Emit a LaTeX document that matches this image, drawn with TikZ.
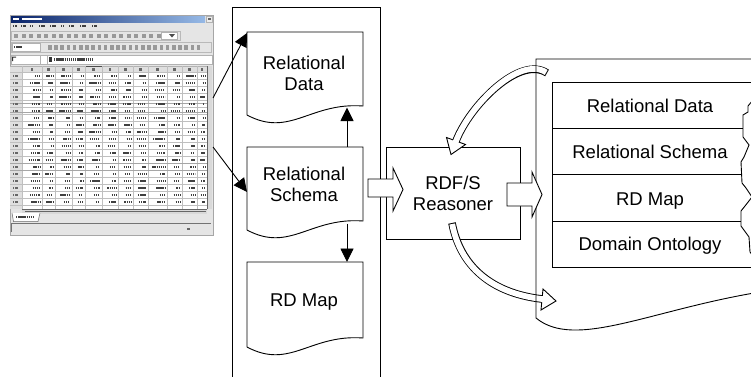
\documentclass[tikz,border=0pt]{standalone}
\usepackage{fontspec}
\setmainfont{Liberation Sans}
\usetikzlibrary{arrows.meta}
\begin{document}
\begin{tikzpicture}[x=1pt,y=-1pt,
  lbl/.style={font=\fontsize{18.5}{21}\selectfont, align=center, inner sep=0pt},
  outline/.style={draw=black, line width=0.9pt},
  arr/.style={draw=black, line width=0.9pt, -{Triangle[length=13.5pt,width=13pt]}},
  blockarrow/.style={draw=black, fill=white, line width=0.9pt, line join=miter},
  bendouter/.style={draw=black, line width=7.6pt, line cap=butt},
  bendinner/.style={draw=white, line width=5.8pt, line cap=butt},
  celltext/.style={draw=black!75, line width=2.3pt, dash pattern=on 1.4pt off 0.7pt},
  faint/.style={draw=gray!50, line width=0.4pt}]
\useasboundingbox (0,0) rectangle (751,376);
\clip (0,0) rectangle (751,376);

% ---------------- spreadsheet window ----------------
\node[minimum width=203pt, minimum height=220pt, inner sep=0pt,
      fill=gray!20, draw=gray!70, line width=0.6pt] (sheet) at (111.5,125) {};
% title bar
\shade[left color={rgb,255:red,10;green,36;blue,106},
       right color={rgb,255:red,150;green,185;blue,230}] (11,16) rectangle (205,22);
\fill[white] (13,17.6) rectangle (19,20.4);
\fill[white] (22,17.6) rectangle (42,20.4);
\draw[gray!60, fill=gray!15] (206,16) rectangle (212,22);
\fill[black!60] (207.5,18) rectangle (210.5,20);
% menu bar
\foreach \a/\b in {13/17,21/26,30/33,39/45,50/56,61/64,69/74,80/86,92/97}
  \draw[celltext] (\a,26.3) -- (\b,26.3);
% first toolbar
\draw[gray!55, line width=0.5pt] (11,31) rectangle (180,40.5);
\foreach \i in {0,...,19}
  \fill[black!40] ({14+7.5*\i},33.5) rectangle ({18+7.5*\i},38);
\draw[fill=white, draw=gray!60] (161,32.5) rectangle (177,39);
\fill[black!70] (169,34) -- (175,34) -- (172,37.5) -- cycle;
% second toolbar
\draw[gray!55, line width=0.5pt] (11,42) rectangle (211,52.5);
\draw[fill=white, draw=gray!60] (12,43.5) rectangle (40,51);
\draw[celltext] (14,47.2) -- (22,47.2);
\foreach \i in {0,...,24}
  \fill[black!40] ({48+6.2*\i},44.5) rectangle ({51.5+6.2*\i},49.5);
% formula bar
\fill[white] (11,55) rectangle (212,64);
\draw[gray!60, line width=0.5pt] (11,55) rectangle (212,64);
\draw[gray!60, line width=0.5pt] (40,55) -- (40,64) (47,55) -- (47,64);
\fill[black!80] (12,56.5) rectangle (16,57.5) (12,56.5) rectangle (13,61);
\fill[black!80] (49,57) rectangle (52,62);
\draw[celltext] (54,59.5) -- (92,59.5);
% column headers
\fill[gray!25] (10,66) rectangle (207,72);
\draw[gray!60, line width=0.5pt] (10,66) -- (207,66);
\foreach \c in {32,48.5,63.5,78.5,93.5,110,125.5,140.5,157.5,174.5,189.5,202}
  \fill[black!60] ({\c-1.2},67.8) rectangle ({\c+1.2},70.6);
\draw[black!70, line width=0.8pt] (85,66.5) -- (102,66.5);
% cell grid
\fill[white] (22,72) rectangle (207,209);
\fill[gray!25] (10,72) rectangle (22,209);
\foreach \r in {0,...,19}
  \draw[faint] (10,{72+7*\r}) -- (207,{72+7*\r});
\foreach \x in {22,42,55,72,85,102,118,133,148,167,182,197}
  \draw[faint] (\x,66) -- (\x,209);
\draw[gray!70, line width=0.5pt] (10,103) -- (207,103) (10,112) -- (207,112)
  (10,163) -- (207,163) (10,170) -- (207,170);
% cell contents
\pgfmathsetseed{2024}
\foreach \r in {0,...,18}{
  \foreach \xa/\xb in {22/42,42/55,55/72,72/85,85/102,102/118,118/133,133/148,148/167,167/182,182/197,197/207}{
    \pgfmathsetmacro\w{(\xb-\xa-4)*(0.25+0.6*rnd)}
    \draw[celltext] ({\xb-2-\w},{76+7*\r}) -- ({\xb-2},{76+7*\r});
  }
  \draw[celltext, draw=black!60] (13,{76+7*\r}) -- (18,{76+7*\r});
}
% scroll bars, sheet tab and status bar
\fill[gray!30] (207,66) rectangle (212,209);
\draw[black!60, line width=0.5pt] (207,66) -- (207,209);
\fill[gray!30] (22,209) rectangle (207,213.5);
\draw[black!60, line width=0.5pt] (22,209) -- (207,209) (25,211.5) -- (206,211.5);
\draw[black!60, fill=white, line width=0.5pt] (12,213) -- (13.5,221.5) -- (38,221.5) -- (40,213);
\draw[celltext] (16,217) -- (34,217);
\draw[black!55, line width=0.6pt] (11,232) -- (11,223) -- (211,223);
\fill[black!60] (187,228) rectangle (190,230);

% ---------------- relational part ----------------
\draw[outline] (232,7) -- (232,390) (232,7) -- (380,7) -- (380,390);
% three document shapes
\draw[outline] (247,115) -- (247,32) -- (363,32) -- (363,106)
  .. controls (310,102) and (290,138) .. (247,115);
\draw[outline] (247,230) -- (247,147) -- (363,147) -- (363,221)
  .. controls (310,217) and (290,253) .. (247,230);
\draw[outline] (247,347) -- (247,262) -- (363,262) -- (363,338)
  .. controls (310,334) and (290,370) .. (247,347);
\node[lbl] (reldata) at (304,73) {Relational\\Data};
\node[lbl] (relschema) at (304,184) {Relational\\Schema};
\node[lbl, anchor=base] (rdmap) at (304,306.6) {RD Map};

% anchor points of the connectors
\coordinate (sheetA) at (213,98);
\coordinate (sheetB) at (213,147);
\coordinate (dataIn) at (247,33);
\coordinate (schemaIn) at (247,192);
\coordinate (schemaTop) at (347,147);
\coordinate (dataBottom) at (347,107.5);
\coordinate (schemaBottom) at (347,223.5);
\coordinate (mapTop) at (347,262);
\draw[arr] (sheetA) -- (dataIn);
\draw[arr] (sheetB) -- (schemaIn);
\draw[arr] (schemaTop) -- (dataBottom);
\draw[arr] (schemaBottom) -- (mapTop);

% ---------------- reasoner ----------------
\node[lbl, draw=black, line width=0.9pt, fill=white,
      minimum width=134pt, minimum height=92pt] (reasoner) at (453,193) {};
\node[lbl] (reasonerText) at (453,193.5) {RDF/S\\Reasoner};

% curved hollow arrows
\draw[bendouter] (547,73) .. controls (520,55) and (470,105) .. (456,141);
\draw[blockarrow] (446.5,137.5) -- (451,154.5) -- (465.5,144.5) -- cycle;
\draw[bendinner, shorten <=1pt] (547,73) .. controls (520,55) and (470,105) .. (456,141) -- (455.3,143);

\draw[bendouter] (452,223) .. controls (460,265) and (490,293) .. (542,299);
\draw[blockarrow] (543,289) -- (556,301) -- (541,310) -- cycle;
\draw[bendinner, shorten <=1pt] (452,223) .. controls (460,265) and (490,293) .. (542,299) -- (544.5,299.3);

% ---------------- knowledge base ----------------
\draw[outline] (760,59) -- (536,59) -- (536,318)
  .. controls (575,350) and (650,310) .. (760,292);
\draw[outline] (760,82) -- (552,82) -- (552,267) -- (760,267);
\draw[outline] (552,128) -- (743,128) (552,174) -- (742,174) (552,221) -- (741,221);
\draw[outline, line join=miter] (753,100) -- (748,106) -- (748,112) -- (743,115) -- (743,137)
  -- (749,145) -- (744,157) -- (741,162) -- (742,183) -- (746,188) -- (752,197)
  -- (745,206) -- (741,211) -- (741,226) -- (749,237) -- (750,252) -- (753,256);
\node[lbl, anchor=base] (kbData) at (650,112.6) {Relational Data};
\node[lbl, anchor=base] (kbSchema) at (650,158.5) {Relational Schema};
\node[lbl, anchor=base] (kbMap) at (650,205) {RD Map};
\node[lbl, anchor=base] (kbOnto) at (650,250.5) {Domain Ontology};

% straight block arrows
\draw[blockarrow] (368,179) -- (393,179) -- (393,168) -- (403,189.5) -- (393,211)
  -- (393,197) -- (368,197) -- cycle;
\draw[blockarrow] (507,183) -- (532,183) -- (532,172) -- (542,194.5) -- (532,217)
  -- (532,206) -- (507,206) -- cycle;
\end{tikzpicture}
\end{document}
